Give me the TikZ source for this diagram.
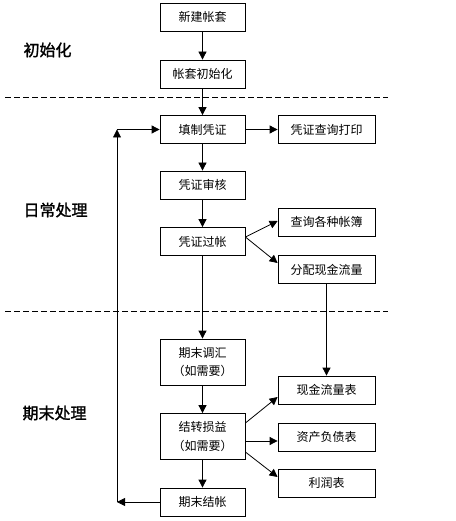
\documentclass[tikz,border=0pt]{standalone}
\usepackage{fontspec}
\newfontfamily\cjk{Noto Sans CJK SC}
\newfontfamily\cjkb[FakeBold=1.5]{Noto Sans CJK SC}
\usetikzlibrary{arrows.meta}
\begin{document}
\begin{tikzpicture}[x=1pt,y=-1pt,
  box/.style={draw,line width=0.8pt,minimum height=28pt,inner sep=0pt,align=center,font=\cjk\fontsize{12}{18.5}\selectfont},
  lbox/.style={box,minimum width=85pt},
  rbox/.style={box,minimum width=97pt},
  tall/.style={minimum height=46pt},
  arr/.style={line width=0.8pt,-{Triangle[length=8pt,width=8pt]}},
  sep/.style={line width=0.8pt,dash pattern=on 6pt off 3pt},
  lab/.style={font=\cjkb\fontsize{16}{16}\selectfont,anchor=west}]
\useasboundingbox (0,0) rectangle (455,521);
\fill[white] (0,0) rectangle (455,521);
% left column
\node[lbox] (n1) at (202.5,17) {新建帐套};
\node[lbox] (n2) at (202.5,74) {帐套初始化};
\node[lbox] (n3) at (202.5,129.5) {填制凭证};
\node[lbox] (n4) at (202.5,185) {凭证审核};
\node[lbox] (n5) at (202.5,241.5) {凭证过帐};
\node[lbox,tall] (n6) at (202.5,362) {期末调汇\\（如需要）};
\node[lbox,tall] (n7) at (202.5,436.5) {结转损益\\（如需要）};
\node[lbox] (n8) at (202.5,502) {期末结帐};
% right column
\node[rbox] (r1) at (326.5,129.5) {凭证查询打印};
\node[rbox] (r2) at (326.5,222) {查询各种帐簿};
\node[rbox] (r3) at (326.5,269.5) {分配现金流量};
\node[rbox] (r4) at (326.5,390) {现金流量表};
\node[rbox] (r5) at (326.5,437) {资产负债表};
\node[rbox] (r6) at (326.5,483) {利润表};
% section labels
\node[lab] (l1) at (20,50) {初始化};
\node[lab] (l2) at (20,210) {日常处理};
\node[lab] (l3) at (19,413) {期末处理};
% separators
\coordinate (s1a) at (5,97); \coordinate (s1b) at (388,97);
\coordinate (s2a) at (5,311); \coordinate (s2b) at (388,311);
\draw[sep] (s1a) -- (s1b);
\draw[sep] (s2a) -- (s2b);
% main flow
\draw[arr] (n1) -- (n2);
\draw[arr] (n2) -- (n3);
\draw[arr] (n3) -- (n4);
\draw[arr] (n4) -- (n5);
\draw[arr] (n5) -- (n6);
\draw[arr] (n6) -- (n7);
\draw[arr] (n7) -- (n8);
\draw[arr] (n3) -- (r1);
\draw[arr] ([yshift=4.5pt]n5.east) -- ([yshift=1pt]r2.west);
\draw[arr] ([yshift=4.5pt]n5.east) -- ([yshift=6.5pt]r3.west);
\draw[arr] (r3) -- (r4);
\draw[arr] ([yshift=13.5pt]n7.east) -- ([yshift=-7pt]r4.west);
\draw[arr] ([yshift=-4.5pt]n7.east) -- ([yshift=-4pt]r5.west);
\draw[arr] ([yshift=-15.5pt]n7.east) -- ([yshift=6pt]r6.west);
% feedback loop
\coordinate (c1) at (117,502);
\coordinate (c2) at (117,129.5);
\draw[arr] (n8.west) -- (c1);
\draw[arr] (c1) -- (c2);
\draw[arr] (c2) -- (n3.west);
\end{tikzpicture}
\end{document}
